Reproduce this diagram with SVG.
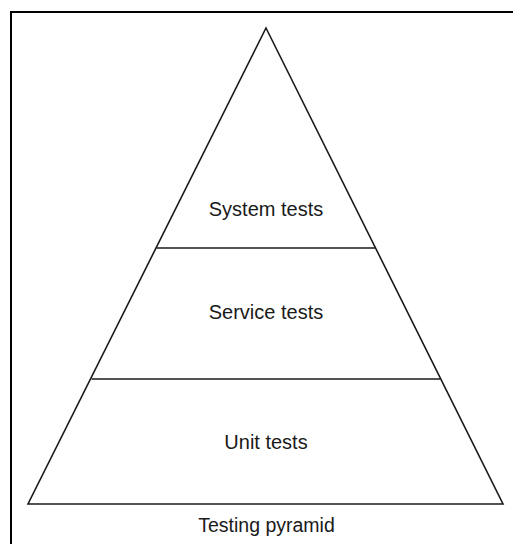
<svg xmlns="http://www.w3.org/2000/svg" width="513" height="544" viewBox="0 0 513 544">
<style>
.ln{fill:none;stroke:#1a1a1a;stroke-width:1.6;stroke-linejoin:miter}
.t{font-family:"Liberation Sans",Arial,sans-serif;font-size:20px;fill:#1a1a1a;text-anchor:middle}
</style>
<rect width="513" height="544" fill="#fff"/>
<path d="M11,544 V12 H513" fill="none" stroke="#000" stroke-width="2"/>
<g id="pyramid">
<polygon class="ln" points="266,28 503,504 28,504"/>
</g>
<g id="connectors">
<line class="ln" x1="156.5" y1="248" x2="375" y2="248"/>
<line class="ln" x1="91.5" y1="379" x2="440.5" y2="379"/>
</g>
<g id="system"><text class="t" x="266" y="216">System tests</text></g>
<g id="service"><text class="t" x="266" y="319">Service tests</text></g>
<g id="unit"><text class="t" x="266" y="449">Unit tests</text></g>
<g id="caption"><text class="t" x="266.5" y="532" style="font-size:19.5px">Testing pyramid</text></g>
</svg>
